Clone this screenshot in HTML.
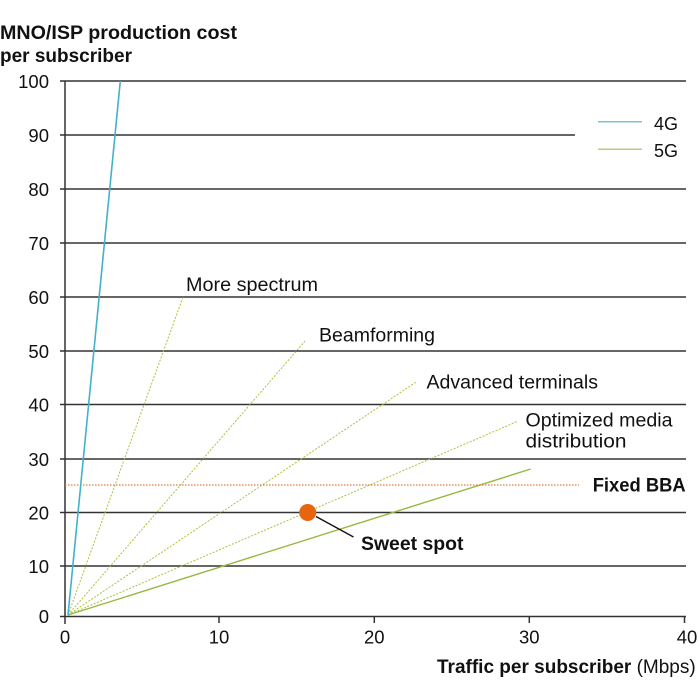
<!DOCTYPE html>
<html><head><meta charset="utf-8"><style>
html,body{margin:0;padding:0;background:#fff;}
svg{display:block;}
text{font-family:"Liberation Sans",sans-serif;fill:#111;}
</style></head><body>
<svg width="700" height="700" viewBox="0 0 700 700" xmlns="http://www.w3.org/2000/svg">
<rect width="700" height="700" fill="#fff"/>
<!-- Title -->
<text x="0" y="39" font-size="19.5" font-weight="bold" textLength="237" lengthAdjust="spacingAndGlyphs">MNO/ISP production cost</text>
<text x="0" y="62" font-size="19.5" font-weight="bold" textLength="132" lengthAdjust="spacingAndGlyphs">per subscriber</text>

<!-- gridlines -->
<g stroke="#333" stroke-width="1.5" fill="none">
<line x1="60" y1="81" x2="686" y2="81"/>
<line x1="60" y1="135" x2="575" y2="135"/>
<line x1="60" y1="189" x2="686" y2="189"/>
<line x1="60" y1="243" x2="686" y2="243"/>
<line x1="60" y1="297" x2="686" y2="297"/>
<line x1="60" y1="351" x2="686" y2="351"/>
<line x1="60" y1="404.5" x2="686" y2="404.5"/>
<line x1="60" y1="459" x2="686" y2="459"/>
<line x1="60" y1="512.5" x2="686" y2="512.5"/>
<line x1="60" y1="566" x2="686" y2="566"/>
<line x1="60" y1="616.5" x2="686" y2="616.5"/>
<line x1="65" y1="81" x2="65" y2="624"/>
<line x1="219" y1="616.5" x2="219" y2="623"/>
<line x1="374.3" y1="616.5" x2="374.3" y2="623"/>
<line x1="529.3" y1="616.5" x2="529.3" y2="623"/>
<line x1="684.5" y1="616.5" x2="684.5" y2="623"/>
</g>

<!-- y tick labels -->
<g font-size="18.5" text-anchor="end">
<text x="49" y="88">100</text>
<text x="49" y="142">90</text>
<text x="49" y="196">80</text>
<text x="49" y="250">70</text>
<text x="49" y="304">60</text>
<text x="49" y="358">50</text>
<text x="49" y="411.5">40</text>
<text x="49" y="466">30</text>
<text x="49" y="519.5">20</text>
<text x="49" y="573">10</text>
<text x="49" y="623">0</text>
</g>
<!-- x tick labels -->
<g font-size="18.5" text-anchor="middle">
<text x="65" y="643.5">0</text>
<text x="219" y="643.5">10</text>
<text x="374.3" y="643.5">20</text>
<text x="529.3" y="643.5">30</text>
<text x="687" y="643.5">40</text>
</g>
<!-- x axis title -->
<text x="437" y="673" font-size="19"><tspan font-weight="bold">Traffic per subscriber</tspan> (Mbps)</text>

<!-- series -->
<g stroke="#a9c23e" stroke-width="1" stroke-dasharray="2 1.5" fill="none">
<line x1="68" y1="615" x2="183" y2="297"/>
<line x1="68" y1="615" x2="305" y2="341"/>
<line x1="68" y1="615" x2="415.7" y2="382.3"/>
<line x1="68" y1="615" x2="516.7" y2="421.7"/>
</g>
<line x1="68" y1="615" x2="530.7" y2="469" stroke="#98b843" stroke-width="1.4"/>
<line x1="65" y1="485" x2="579" y2="485" stroke="#e07a3a" stroke-width="1.2" stroke-dasharray="1.5 1.5"/>
<line x1="68" y1="615" x2="120.3" y2="81" stroke="#45b1c9" stroke-width="1.6"/>

<!-- sweet spot -->
<line x1="316" y1="516.5" x2="353.5" y2="537" stroke="#111" stroke-width="1.3"/>
<circle cx="307.7" cy="512.5" r="8.5" fill="#e8650f"/>

<!-- annotations -->
<g font-size="19">
<text x="186" y="291" textLength="132" lengthAdjust="spacingAndGlyphs">More spectrum</text>
<text x="319" y="341.5" textLength="116" lengthAdjust="spacingAndGlyphs">Beamforming</text>
<text x="426.5" y="388.3" textLength="171.5" lengthAdjust="spacingAndGlyphs">Advanced terminals</text>
<text x="525.5" y="426.7" textLength="147" lengthAdjust="spacingAndGlyphs">Optimized media</text>
<text x="525.5" y="447.3" textLength="101" lengthAdjust="spacingAndGlyphs">distribution</text>
</g>
<text x="592.7" y="491.7" font-size="19" font-weight="bold" textLength="93" lengthAdjust="spacingAndGlyphs">Fixed BBA</text>
<text x="361" y="550" font-size="19" font-weight="bold" textLength="102.5" lengthAdjust="spacingAndGlyphs">Sweet spot</text>

<!-- legend -->
<line x1="598" y1="121.7" x2="642" y2="121.7" stroke="#7cc3d6" stroke-width="1.5"/>
<line x1="598" y1="149.3" x2="642" y2="149.3" stroke="#b7cc80" stroke-width="1.5"/>
<text x="654" y="130" font-size="18">4G</text>
<text x="654" y="157" font-size="18">5G</text>
</svg>
</body></html>
